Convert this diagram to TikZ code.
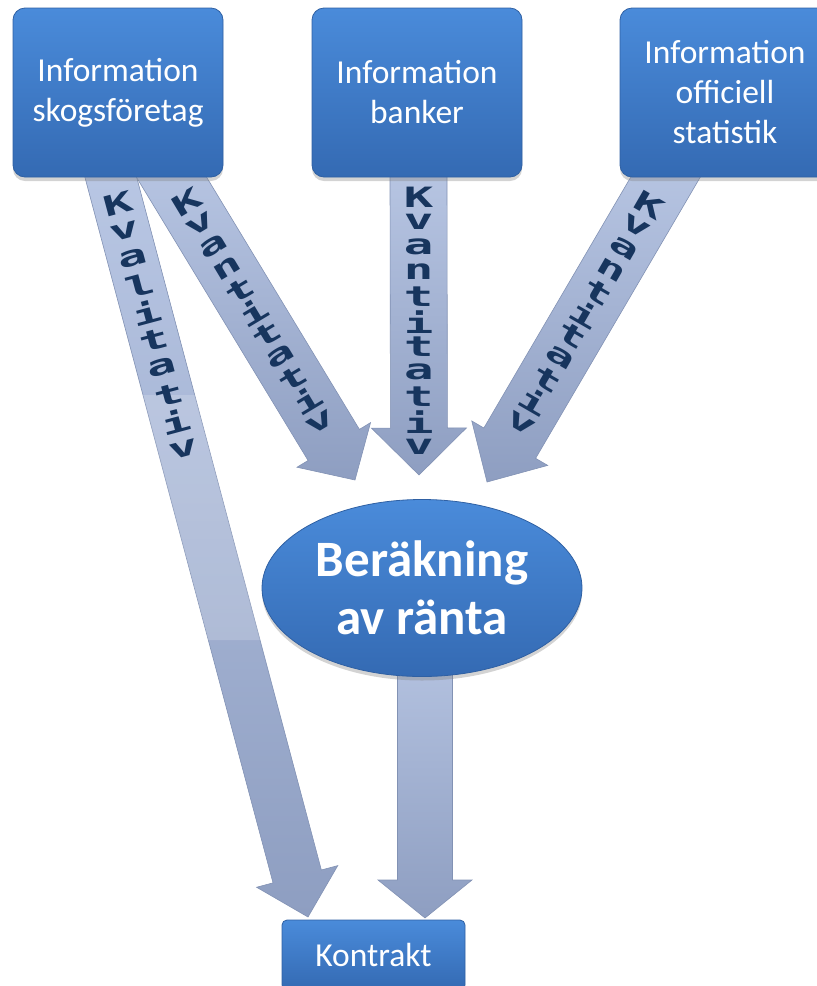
\documentclass[tikz,border=0pt]{standalone}
\usepackage{fontspec}
\usepackage{graphicx}
\setmainfont{Carlito}
\newfontfamily\lettfont{DejaVu Sans Mono}
\usetikzlibrary{calc,shapes.geometric,shadows}
\pgfdeclarelayer{bg}
\pgfsetlayers{bg,main}
\definecolor{bxtop}{HTML}{4A8BDA}
\definecolor{bxbot}{HTML}{346AB3}
\definecolor{bxline}{HTML}{2F60A3}
\definecolor{artop}{HTML}{BAC8E5}
\definecolor{arbot}{HTML}{8E9EC1}
\definecolor{arline}{HTML}{8292B4}
\definecolor{lett}{HTML}{17355E}
\newcommand\arrlet[1]{\scalebox{1.75}[1]{\fontsize{28}{28}\selectfont\lettfont\bfseries #1}}
% name, tail, tip, shaft half width, head half width, head length
\newcommand\blockarr[6]{%
  \coordinate (#1s) at ($(#2)!-30pt!(#3)$);
  \coordinate (#1h) at ($(#3)!#6!(#2)$);
  \path[arrowbody] ($(#1s)!#4!90:(#3)$) -- ($(#1h)!#4!90:(#3)$) -- ($(#1h)!#5!90:(#3)$) -- (#3)
     -- ($(#1h)!#5!-90:(#3)$) -- ($(#1h)!#4!-90:(#3)$) -- ($(#1s)!#4!-90:(#3)$) -- cycle;
}
% name, tail, tip, first distance, spacing, angle, letters
\newcommand\arrtext[7]{%
  \foreach \c [count=\i from 0] in {#7} {%
    \pgfmathsetlengthmacro\dd{#4+\i*#5}%
    \node[lettnode, rotate=#6] (#1-\i) at ($(#2)!\dd!(#3)$) {\arrlet{\c}};
  }%
}
\begin{document}
\begin{tikzpicture}[x=1pt,y=-1pt,
  infobox/.style={rectangle, rounded corners=12pt, minimum width=210pt, minimum height=169pt,
    top color=bxtop, bottom color=bxbot, draw=bxline, line width=0.8pt, text=white,
    align=center, inner sep=0pt, font=\fontsize{33.5}{40}\selectfont,
    drop shadow={opacity=0.35, shadow xshift=0pt, shadow yshift=-4pt}},
  calcbox/.style={ellipse, minimum width=320pt, minimum height=177pt, inner sep=0pt,
    top color=bxtop, bottom color=bxbot, draw=bxline, line width=0.8pt, text=white,
    align=center, font=\fontsize{51}{58}\selectfont\bfseries,
    drop shadow={opacity=0.35, shadow xshift=0pt, shadow yshift=-4pt}},
  endbox/.style={rectangle, rounded corners=5pt, minimum width=183pt, minimum height=70pt,
    top color=bxtop, bottom color=bxbot, draw=bxline, line width=0.8pt, text=white,
    inner sep=0pt, font=\fontsize{33.5}{40}\selectfont},
  arrowbody/.style={top color=artop, bottom color=arbot, draw=arline, line width=0.6pt, line join=miter},
  lettnode/.style={inner sep=0pt, text=lett}
]
\useasboundingbox (0,0) rectangle (817,986);
\clip (0,0) rectangle (817,986);

% nodes
\node[infobox] (sk) at (118,92.5) {Information\\skogsföretag};
\node[infobox] (ba) at (417,92.5) {Information\\banker};
\node[infobox] (st) at (725,92.5) {Information\\officiell\\statistik};
\node[calcbox] (ber) at (422,588) {Beräkning\\av ränta};
\node[endbox] (kon) at (373.5,955) {Kontrakt};

% arrow coordinates
\coordinate (t1) at (111,178);   \coordinate (p1) at (308,917);
\coordinate (t2) at (172,178);   \coordinate (p2) at (355,480);
\coordinate (t3) at (418.5,178); \coordinate (p3) at (419,475);
\coordinate (t4) at (665,178);   \coordinate (p4) at (487,482);
\coordinate (t5) at (425,640);   \coordinate (p5) at (425,918);

\begin{pgfonlayer}{bg}
  \blockarr{aa}{t1}{p1}{25pt}{42pt}{42pt}
  \fill[white, opacity=0.18] (143,395) -- (194.8,395) -- (260.1,640) -- (208.3,640) -- cycle;
  \blockarr{ab}{t2}{p2}{30pt}{43pt}{41pt}
  \blockarr{ac}{t3}{p3}{28.5pt}{47.5pt}{47pt}
  \blockarr{ad}{t4}{p4}{30pt}{44pt}{45pt}
  \blockarr{ae}{t5}{p5}{27.5pt}{47pt}{38pt}
  \arrtext{la}{t1}{p1}{27pt}{28.2pt}{15}{K,v,a,l,i,t,a,t,i,v}
  \arrtext{lb}{t2}{p2}{28pt}{25.8pt}{31}{K,v,a,n,t,i,t,a,t,i,v}
  \arrtext{lc}{t3}{p3}{19pt}{25pt}{0}{K,v,a,n,t,i,t,a,t,i,v}
  \arrtext{ld}{t4}{p4}{31pt}{25.3pt}{-30}{K,v,a,n,t,i,t,a,t,i,v}
\end{pgfonlayer}
\end{tikzpicture}
\end{document}
